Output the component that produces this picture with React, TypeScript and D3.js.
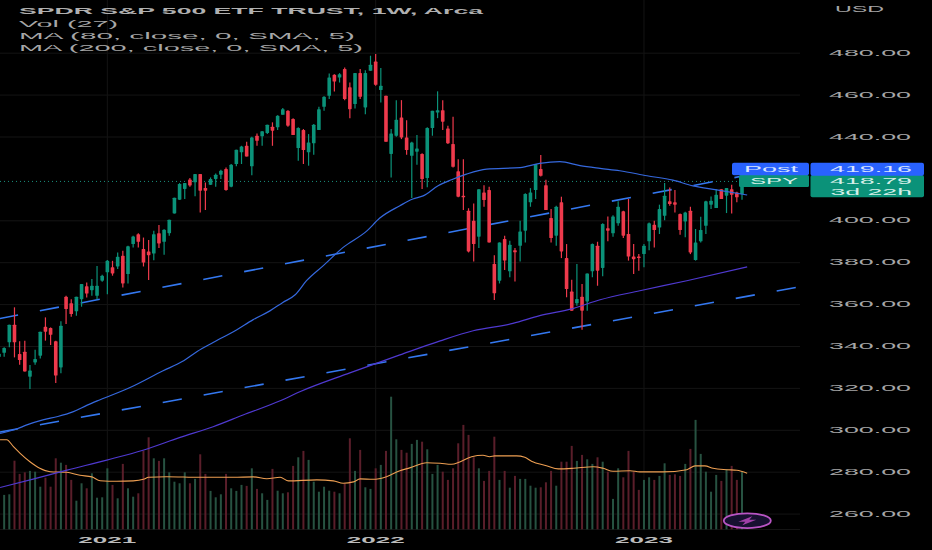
import React, { useEffect, useRef } from 'react';
import * as d3 from 'd3';

// weekly SPY candles
const opens = [
    335, 337, 342, 350.4, 336.4, 337.5, 325.6, 332.4, 335.6, 349.4,
    348.8, 342.5, 330, 363.8, 360.7, 356.8, 362.6, 368.7, 366.9, 364.2,
    371.4, 375.4, 377.8, 378.2, 383.3, 374.6, 388.9, 393.6, 386.5, 385.4,
    384.4, 394.1, 390, 394.1, 403.5, 410.1, 415.2, 419.7, 418.4, 422.3,
    415.7, 417.2, 420, 422, 424.7, 416.3, 427.1, 432.7, 435.8, 426,
    440.6, 440.3, 441.9, 444.9, 444.6, 450.6, 452.5, 448.6, 434.7, 443.3,
    432.7, 437, 443.3, 454.4, 459.7, 469.7, 468.4, 472.4, 463.7, 455.7,
    470.5, 454.1, 471.6, 476, 462.4, 459.7, 431.9, 440.6, 449.3, 439.8,
    431, 433, 431.9, 420.4, 444.3, 451.7, 452.8, 444.1, 436.6, 423.6,
    412, 404.8, 400, 392.4, 413.5, 414.7, 379.4, 371.4, 391.3, 375.9,
    386, 388.1, 395.3, 408.8, 414.7, 424.7, 417, 401.3, 392.9, 408.8,
    382.2, 366.2, 360.6, 363.8, 361.5, 375.9, 388.1, 377.5, 396.5, 394,
    398.8, 404.5, 393.7, 382.9, 382.9, 384.1, 390.2, 398.1, 396.8, 402.4,
    409.3, 408.8, 403.2, 399.7, 404.8, 381.3, 390.2, 397.6, 407.7, 406.1,
    415.1, 412, 415.1, 413.5, 412.8,
];
const closes = [
    336.5, 339.3, 350.4, 342, 333.5, 328.1, 328.5, 334, 347.1, 347.1,
    345.6, 326.1, 349.9, 357.9, 355.5, 363.8, 369.8, 365.3, 369, 369,
    373.8, 380.9, 374.9, 382.8, 370.1, 387.8, 392.5, 390, 380.1, 383.6,
    393.6, 389.2, 395.7, 400.5, 411, 417.6, 418, 416.9, 422.3, 414.4,
    414.4, 419.9, 422, 423.9, 414.7, 426.8, 433.9, 435.5, 430.7, 439.8,
    438.2, 442.7, 445.9, 443, 450.1, 453.3, 445.4, 440.9, 444.3, 433.8,
    437.4, 445.9, 453.3, 459.2, 468.4, 466.5, 470, 458.1, 453.3, 470.5,
    459.2, 470.5, 474.5, 464.9, 464.5, 437.7, 441.7, 448.2, 439.8, 433.8,
    437.4, 434.5, 419.9, 444.3, 452.5, 452.8, 447.3, 437, 425.8, 411.5,
    411.2, 385.4, 388.9, 415.1, 409.9, 389.7, 365.4, 389.7, 381, 388.6,
    385, 394.9, 412.8, 413.5, 427.1, 421.5, 405.1, 391.8, 406.7, 385.4,
    367.4, 357.1, 362.7, 357.1, 374.9, 388.9, 376.2, 398.5, 395.3, 402.1,
    406.7, 392.9, 382.9, 381.7, 382.2, 388.1, 398.8, 395.6, 405.6, 412,
    408, 407.7, 395.6, 404, 384.9, 389.7, 395.6, 409.3, 409.6, 412.4,
    410.4, 415.6, 412.4, 411.2, 418.79,
];
const highs = [
    337.5, 339.6, 350.4, 358.7, 342.5, 342.8, 331.2, 338.5, 347.1, 353.9,
    349.1, 342.8, 352, 364.2, 362.6, 363.8, 369.8, 370.6, 372.2, 378.4,
    374.2, 381.3, 380.9, 384.9, 385.7, 388.1, 392.9, 394, 392, 390.8,
    395.2, 398, 396, 400.5, 411, 418, 418, 420.4, 422.3, 422.3,
    418.3, 420.7, 422.6, 424.4, 425.5, 427.1, 433.9, 435.8, 437.7, 440.1,
    441.7, 442.7, 445.9, 447, 450.4, 453.8, 452.8, 449, 444.6, 443.8,
    441.4, 446.2, 454.4, 459.4, 470.3, 470, 470.5, 473.2, 466, 470.5,
    472.4, 471.9, 478.8, 479.6, 472.9, 459.7, 443.8, 457.6, 457.6, 448,
    437.7, 440.9, 432.3, 444.6, 452.5, 461.8, 457.6, 445.4, 449.7, 429.4,
    429.4, 406, 408.3, 415.1, 417, 416.2, 383.6, 389.7, 392.9, 390.5,
    387, 400, 413.2, 415.6, 427.1, 431.4, 419.6, 405.6, 407.2, 411.5,
    388.9, 371.9, 379.4, 369.8, 374.9, 389.2, 390, 398.8, 402, 402.7,
    409.3, 404.8, 410.4, 388.9, 384.1, 388.9, 399.2, 400, 407.7, 418,
    415.9, 414.7, 403.5, 404.3, 406.7, 396.1, 401.9, 409.6, 411.6, 415.1,
    415.1, 415.6, 417.2, 413.9, 419.5,
];
const lows = [
    333.5, 335.1, 339.6, 334.8, 331.3, 328.1, 319.7, 331.3, 334.3, 342.8,
    340.7, 322.6, 327.2, 350.7, 354.2, 354.7, 359, 363.4, 364.2, 362.6,
    370.9, 365, 373.8, 377, 368.2, 370.1, 387.3, 387.3, 378.2, 371.7,
    381.2, 387, 383.8, 392.9, 403.5, 410, 410.4, 416.3, 411.7, 404,
    405.1, 417.1, 416.3, 419.9, 414.4, 416, 426, 427.1, 430.7, 421.8,
    435.8, 435.8, 441.4, 435.8, 443.3, 450.6, 444.9, 440.9, 428.7, 427.1,
    426.3, 431.5, 443.3, 452.5, 458.1, 461.7, 466, 457.6, 448.9, 453.6,
    458.1, 450.9, 471.6, 464.5, 456.5, 437.7, 420.7, 440.1, 439, 431.5,
    410.9, 426.8, 415.2, 416, 440.6, 449, 443.3, 436.6, 425.5, 411.2,
    405.1, 384.9, 380.6, 387, 406.7, 389.7, 362.2, 370.1, 376.5, 373,
    371, 380.6, 389.7, 406.7, 410.4, 421.2, 405.1, 389.7, 388.1, 382.2,
    363.5, 357.1, 359.5, 348, 357.1, 373, 369, 373.5, 390.2, 392.4,
    397.6, 391.8, 381, 374.6, 376.2, 377.8, 386, 387.3, 393.7, 400.3,
    407.2, 404, 393.4, 392.1, 384.1, 381, 389.7, 393.7, 405.6, 406.1,
    410.4, 403.7, 403.5, 408.8, 410,
];
// millions of shares
const volumes = [
    183, 172, 175, 343, 277, 285, 292, 288, 213, 258,
    213, 355, 333, 322, 247, 143, 230, 205, 280, 158,
    160, 305, 222, 155, 327, 205, 163, 180, 393, 460,
    355, 342, 355, 285, 238, 230, 285, 230, 252, 375,
    277, 192, 160, 175, 277, 205, 192, 222, 217, 305,
    202, 180, 147, 302, 193, 180, 185, 317, 360, 392,
    347, 238, 188, 213, 193, 188, 180, 230, 455, 292,
    397, 210, 202, 305, 322, 392, 663, 450, 397, 383,
    427, 447, 438, 400, 277, 322, 288, 247, 305, 430,
    522, 472, 360, 305, 242, 292, 463, 247, 292, 208,
    267, 252, 252, 218, 208, 210, 235, 292, 218, 338,
    338, 417, 342, 372, 350, 327, 360, 338, 288, 152,
    305, 260, 392, 288, 197, 247, 260, 247, 267, 330,
    272, 275, 267, 327, 402, 547, 377, 288, 188, 272,
    242, 300, 317, 247, 288,
];

// moving averages sampled along their curves: week index, value
const ma80Weeks = [
    0.2, 3.4, 5.4, 8.5, 11.4, 14.3, 17.1, 19.6, 25.4, 31.8, 35.5, 38.4, 41.5, 46.1,
    49.2, 52.5, 55, 57.4, 59.6, 62.8, 66.7, 71.3, 73.8, 77.7, 80.2, 82.2, 85.1, 87.7, 90.6,
    94.5, 101, 104.8, 108.7, 112.6, 116.5, 120.3, 125.6, 130.6, 134.5, 139.1, 145,
];
const ma80Values = [
    298.5, 300.6, 302.6, 305, 306.6, 308.8, 312, 314.6, 320.4, 328.4, 332.8, 337.6, 341.9, 348,
    352.7, 357, 361, 364.7, 371.4, 378.5, 387.3, 395.2, 401.3, 407.2, 410.4, 411.9, 416.7, 419.6, 422.3,
    424.7, 425.4, 427.4, 428.2, 426.3, 425, 423.9, 421.5, 419.4, 416.7, 414.8, 412.3,
];
const ma200Weeks = [
    0.2, 6.6, 13.2, 20.9, 27.9, 35.1, 41.5, 47.3, 54.5, 58.3, 68,
    77.7, 85.5, 91.9, 99.6, 104.8, 111.2, 116.5, 124.2, 133.3, 145,
];
const ma200Values = [
    272.7, 276.7, 281, 285.8, 290.5, 296.6, 301.7, 307.3, 314.1, 318.4, 327.4,
    336, 342.7, 347.5, 351, 354.7, 358.1, 362.3, 366.6, 371.4, 378,
];
const volMaWeeks = [
    0.2, 1.5, 2.8, 4.1, 6, 7.9, 9.9, 13.1, 15.7, 18, 19.6, 22.8, 26, 28, 29, 32.5, 39, 45.4,
    49.3, 51.9, 54.5, 56.1, 61.6, 64.8, 66.7, 68.7, 70, 72.5, 75.1, 77.7, 79.6, 82.9, 85.5,
    87.7, 89.3, 91.6, 93.8, 95.1, 96.1, 100.3, 101.9, 103.2, 106.1, 108.4, 111.3, 115.2,
    117.1, 119, 122.3, 124.2, 128.7, 133.3, 134.9, 136.8, 138.4, 141, 143, 145,
];
const volMaValues = [
    448, 448, 413, 380, 338, 305, 288, 285, 270, 262, 243, 240, 242, 250, 260, 263, 260, 260,
    262, 253, 260, 242, 247, 242, 230, 237, 252, 250, 263, 293, 307, 333, 330,
    325, 337, 363, 370, 363, 367, 367, 360, 340, 318, 302, 305, 313,
    305, 290, 293, 287, 287, 298, 317, 317, 305, 298, 295, 280,
];

// two hand drawn dashed trend lines: [week, price] at each end
const trendUpper = [[0, 353.3], [144.6, 421.6]];
const trendLower = [[0, 299.1], [155.8, 368.8]];

const priceTicks = [480, 460, 440, 400, 380, 360, 340, 320, 300, 280, 260];
const yearLabels = ['2021', '2022', '2023'];
const yearWeeks = [21, 73, 125];

const legendLabels = ['Vol (27)', 'MA (80, close, 0, SMA, 5)', 'MA (200, close, 0, SMA, 5)'];
const legendWidths = [99, 336, 344];

const lastPost = 419.16;
const lastClose = 418.79;

const UP = '#0b9279';
const DOWN = '#ee3a4c';
const VOL_UP = '#275241';
const VOL_DOWN = '#5a1e2a';
const TEXT = '#a6a6a6';
const FONT = '"Liberation Sans", sans-serif';

const App: React.FC = () => {
    const svgRef = useRef<SVGSVGElement>(null);

    useEffect(() => {
        if (!svgRef.current) return;
        const svg = d3.select(svgRef.current);
        svg.selectAll('*').remove();

        const x = d3.scaleLinear().domain([0, 144]).range([-1, 742]);
        const y = d3.scaleLinear().domain([260, 480]).range([514.1, 53.2]);
        const volY = d3.scaleLinear().domain([0, 800]).range([529.3, 369.3]);

        svg.append('rect').attr('width', 932).attr('height', 550).attr('fill', '#000');

        // grid
        const grid = svg.append('g').attr('stroke', '#141414').attr('stroke-width', 1);
        priceTicks.forEach((p) => {
            grid.append('line').attr('x1', 0).attr('x2', 800).attr('y1', y(p)).attr('y2', y(p));
        });
        yearWeeks.forEach((w) => {
            grid.append('line').attr('x1', x(w)).attr('x2', x(w)).attr('y1', 0).attr('y2', 529);
        });
        grid.append('line').attr('x1', 0).attr('x2', 800).attr('y1', 529.5).attr('y2', 529.5);

        const weeks = d3.range(opens.length);

        // volume
        svg.append('g')
            .selectAll('rect')
            .data(weeks)
            .enter()
            .append('rect')
            .attr('x', (i: number) => x(i) - 1)
            .attr('width', 2)
            .attr('y', (i: number) => volY(volumes[i]))
            .attr('height', (i: number) => volY(0) - volY(volumes[i]))
            .attr('fill', (i: number) => (closes[i] >= opens[i] ? VOL_UP : VOL_DOWN));

        const lineOf = (ws: number[], ys: number[], scale: d3.ScaleLinear<number, number>) =>
            d3.line<number>()
                .x((w) => x(w))
                .y((_w, k) => scale(ys[k]))
                .curve(d3.curveMonotoneX)(ws);

        svg.append('path')
            .attr('d', lineOf(volMaWeeks, volMaValues, volY))
            .attr('fill', 'none')
            .attr('stroke', '#ee9f52')
            .attr('stroke-width', 1.1);

        // last price dotted line
        svg.append('line')
            .attr('x1', 0)
            .attr('x2', 742)
            .attr('y1', y(lastClose))
            .attr('y2', y(lastClose))
            .attr('stroke', '#1b8e7c')
            .attr('stroke-width', 1)
            .attr('stroke-dasharray', '1 3');

        // trend lines
        [trendUpper, trendLower].forEach((t) => {
            svg.append('line')
                .attr('x1', x(t[0][0]))
                .attr('y1', y(t[0][1]))
                .attr('x2', x(t[1][0]))
                .attr('y2', y(t[1][1]))
                .attr('stroke', '#3478f0')
                .attr('stroke-width', 1.6)
                .attr('stroke-dasharray', '19.4 22.2');
        });

        // candles
        const candles = svg.append('g');
        candles.selectAll('line')
            .data(weeks)
            .enter()
            .append('line')
            .attr('x1', (i: number) => x(i))
            .attr('x2', (i: number) => x(i))
            .attr('y1', (i: number) => y(highs[i]))
            .attr('y2', (i: number) => y(lows[i]))
            .attr('stroke', (i: number) => (closes[i] >= opens[i] ? UP : DOWN))
            .attr('stroke-width', 1.2);
        candles.selectAll('rect')
            .data(weeks)
            .enter()
            .append('rect')
            .attr('x', (i: number) => x(i) - 1.8)
            .attr('width', 3.6)
            .attr('y', (i: number) => y(Math.max(opens[i], closes[i])))
            .attr('height', (i: number) => Math.max(1, Math.abs(y(opens[i]) - y(closes[i]))))
            .attr('rx', 0.6)
            .attr('fill', (i: number) => (closes[i] >= opens[i] ? UP : DOWN));

        // moving averages over the candles
        svg.append('path')
            .attr('d', lineOf(ma80Weeks, ma80Values, y))
            .attr('fill', 'none')
            .attr('stroke', '#3568dd')
            .attr('stroke-width', 1.2);
        svg.append('path')
            .attr('d', lineOf(ma200Weeks, ma200Values, y))
            .attr('fill', 'none')
            .attr('stroke', '#4f39d0')
            .attr('stroke-width', 1.2);

        const label = (
            text: string,
            tx: number,
            ty: number,
            len: number,
            fill: string,
            size = 9.5,
            weight = '400',
        ) => {
            svg.append('text')
                .attr('x', tx)
                .attr('y', ty - 1)
                .attr('dominant-baseline', 'central')
                .attr('textLength', len)
                .attr('lengthAdjust', 'spacingAndGlyphs')
                .style('font-family', FONT)
                .style('font-size', `${size}px`)
                .style('font-weight', weight)
                .style('fill', fill)
                .text(text);
        };

        // price axis
        priceTicks.forEach((p) => label(p.toFixed(2), 829, y(p), 82, TEXT));
        label('USD', 835, 9, 49, TEXT);

        // header legend
        label('SPDR S&P 500 ETF TRUST, 1W, Arca', 19, 11.5, 464, '#b0b0b0', 9.5, '700');
        legendLabels.forEach((t, k) => label(t, 19, 24 + k * 12.2, legendWidths[k], TEXT));

        // year labels
        yearLabels.forEach((t, k) => label(t, x(yearWeeks[k]) - 29, 540, 58, '#bcbcbc', 9.5, '700'));

        // price tags
        svg.append('rect').attr('x', 739).attr('y', 175).attr('width', 70).attr('height', 12).attr('rx', 1.5).attr('fill', UP);
        svg.append('rect').attr('x', 810.5).attr('y', 175).attr('width', 113.5).attr('height', 22.3).attr('rx', 2).attr('fill', UP);
        svg.append('rect').attr('x', 732).attr('y', 162.7).attr('width', 77).attr('height', 12.6).attr('rx', 2).attr('fill', '#2962ff');
        svg.append('rect').attr('x', 810.5).attr('y', 162.7).attr('width', 113.5).attr('height', 13).attr('rx', 2).attr('fill', '#2962ff');
        label('Post', 744, 169.5, 54, '#d8e4ff');
        label(lastPost.toFixed(2), 830, 169.5, 82, '#d8e4ff');
        label('SPY', 750, 181.5, 48, '#d4efe8');
        label(lastClose.toFixed(2), 830, 181.5, 82, '#d4efe8');
        label('3d 22h', 830.5, 192, 81.5, '#d4efe8');

        // lightning badge
        const badge = svg.append('g').attr('transform', 'translate(747.3, 520.7)');
        badge.append('ellipse')
            .attr('rx', 23.5)
            .attr('ry', 7.4)
            .attr('fill', '#171030')
            .attr('stroke', '#b955c4')
            .attr('stroke-width', 1.8);
        badge.append('path')
            .attr('d', 'M5 -4.5 L-9 1 L-2 1 L-5 4.5 L9 -1 L2 -1 Z')
            .attr('fill', '#a040a8');
    }, []);

    return (
        <svg
            ref={svgRef}
            width={932}
            height={550}
            style={{ position: 'absolute', left: 0, top: 0, display: 'block' }}
        />
    );
};

export default App;
